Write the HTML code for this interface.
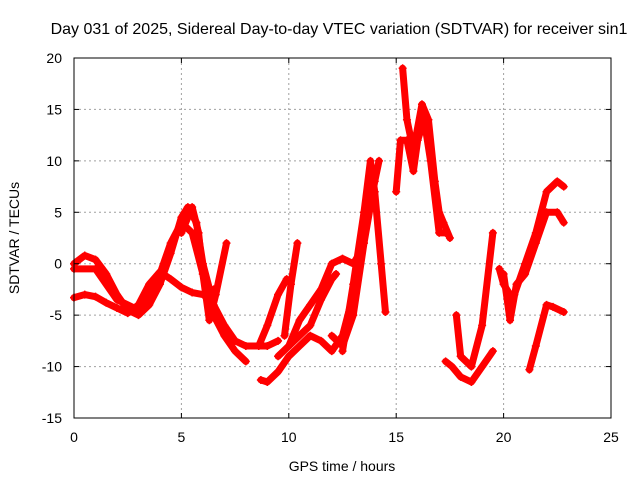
<!DOCTYPE html>
<html><head><meta charset="utf-8">
<style>
body{margin:0;background:#fff;}
svg{display:block;font-family:"Liberation Sans",sans-serif;}
</style></head>
<body>
<svg id="chart" width="640" height="480">
<rect width="640" height="480" fill="#fff"/>
<text x="339" y="34" font-size="16" text-anchor="middle">Day 031 of 2025, Sidereal Day-to-day VTEC variation (SDTVAR) for receiver sin1</text>
<text x="342" y="471" font-size="14" text-anchor="middle">GPS time / hours</text>
<text transform="translate(19,238) rotate(-90)" font-size="14" text-anchor="middle">SDTVAR / TECUs</text>
<g id="grid"></g>
<g id="marks"></g>
<rect x="74" y="58" width="537" height="360" fill="none" stroke="#000" stroke-width="1"/>
<g id="ticks"></g>
</svg>
<script>
const xTicks=[0,5,10,15,20,25];
const yTicks=[-15,-10,-5,0,5,10,15,20];
const trackA=[[0,-3.3],[0.5,-3],[1,-3.2],[1.5,-3.8],[2,-4.3],[2.5,-4.8],[3,-4],[3.5,-2],[4,-0.8],[4.5,-1.5],[5,-2.3],[5.5,-2.8],[6,-3],[6.5,-2.5]];
const trackB=[[0,0],[0.5,0.8],[1,0.4],[1.5,-1],[2,-3],[2.5,-4.5],[3,-5],[3.5,-4],[4,-2],[4.5,1],[5,4.5],[5.3,5.5],[5.7,4],[6,0],[6.5,-4],[7,-6],[7.5,-7.5],[8,-8],[9,-8],[9.5,-7.5]];
const trackC=[[0,-0.5],[1,-0.5],[2,-3.5],[3,-4.5],[4,-1],[4.5,2],[5,4],[5.5,3],[6,-1],[6.5,-5],[7,-7],[7.5,-8.5],[8,-9.5]];
const trackD=[[5,3],[5.5,5.5],[5.8,3],[6,-1],[6.3,-5.5],[6.6,-3],[7.1,2]];
const trackE=[[8.6,-8],[9,-6],[9.5,-3],[9.9,-1.5]];
const trackE2=[[9.8,-7],[10.1,-2],[10.4,2]];
const trackF=[[8.7,-11.3],[9,-11.5],[9.5,-10.5],[10,-9],[10.5,-8],[11,-7],[11.5,-7.5],[12,-8.5],[12.5,-7],[13,-3]];
const trackG=[[9.5,-9],[10,-8],[10.5,-7],[11,-6],[11.5,-3.5],[12,-1.5],[12.2,-1]];
const trackH=[[10,-8],[10.5,-5.5],[11,-4],[11.5,-2.5],[12,0],[12.5,0.5],[13,0],[13.3,1]];
const trackI=[[12,-7],[12.5,-8],[13,-5],[13.5,2],[14,8],[14.2,10]];
const trackJ=[[12.5,-8.5],[13,-2],[13.5,5],[13.8,10],[14,7],[14.3,0],[14.5,-4.7]];
const trackL=[[15,7],[15.2,12],[15.5,12],[15.8,9],[16,12],[16.3,14],[16.6,10],[17,3],[17.3,3]];
const trackM=[[15.3,19],[15.5,14],[15.8,11],[16.2,15.5],[16.5,14],[16.8,8],[17,5],[17.2,4],[17.5,2.5]];
const trackN=[[17.3,-9.5],[17.6,-10],[18,-11],[18.5,-11.5],[19,-10],[19.5,-8.5]];
const trackO=[[17.8,-5],[18,-9],[18.5,-10],[19,-6],[19.5,3]];
const trackP=[[19.8,-0.5],[20,-2],[20.3,-3],[20.5,-3],[21,0],[21.5,3],[22,7],[22.5,8],[22.8,7.5]];
const trackQ=[[20,-1],[20.3,-5.5],[20.6,-2],[21,-1],[21.5,2],[22,5],[22.5,5],[22.8,4]];
const trackR=[[21.2,-10.3],[21.5,-8],[22,-4],[22.3,-4.2],[22.8,-4.7]];
const tracks=[trackA,trackB,trackC,trackD,trackE,trackE2,trackF,trackG,trackH,trackI,trackJ,trackL,trackM,trackN,trackO,trackP,trackQ,trackR];

const X0=74,X1=611,Y0=418,Y1=58;
function xs(t){return X0+(t-0)/(25-0)*(X1-X0);}
function ys(v){return Y0-(v+15)/(20+15)*(Y0-Y1);}
const NS="http://www.w3.org/2000/svg";
const grid=document.getElementById('grid'),ticks=document.getElementById('ticks'),marks=document.getElementById('marks');
function mk(tag,attrs,parent){const e=document.createElementNS(NS,tag);for(const k in attrs)e.setAttribute(k,attrs[k]);parent.appendChild(e);return e;}
xTicks.forEach(t=>{
  const x=xs(t);
  if(t>0&&t<25){const g=mk('line',{x1:x,x2:x,y1:Y1,y2:Y0,stroke:'#a0a0a0','stroke-dasharray':'2,3'},grid);
  
  }
  const l=mk('text',{x:x,y:Y0+24,'font-size':14,'text-anchor':'middle'},ticks);
  l.textContent=t;
  
  
  mk('line',{x1:x,x2:x,y1:Y0,y2:Y0-5,stroke:'#000'},ticks);
  mk('line',{x1:x,x2:x,y1:Y1,y2:Y1+5,stroke:'#000'},ticks);
});
yTicks.forEach(v=>{
  const y=ys(v);
  if(v>-15&&v<20){const g=mk('line',{x1:X0,x2:X1,y1:y,y2:y,stroke:'#a0a0a0','stroke-dasharray':'2,3'},grid);
  
  }
  const l=mk('text',{x:X0-12,y:y+5,'font-size':14,'text-anchor':'end'},ticks);
  l.textContent=v;
  
  
  mk('line',{x1:X0,x2:X0+5,y1:y,y2:y,stroke:'#000'},ticks);
  mk('line',{x1:X1,x2:X1-5,y1:y,y2:y,stroke:'#000'},ticks);
});
tracks.forEach((tr,i)=>{
  const pts=tr.map(p=>xs(p[0])+','+ys(p[1])).join(' ');
  const pl=mk('polyline',{points:pts,fill:'none',stroke:'#ff0000','stroke-width':7,'stroke-linejoin':'round','stroke-linecap':'round'},marks);
  
  
  tr.forEach(p=>{
    const x=xs(p[0]),y=ys(p[1]);
    const m=mk('path',{d:`M${x-4},${y}H${x+4}M${x},${y-4}V${y+4}`,stroke:'#ff0000','stroke-width':1.5},marks);
    
    
  });
});
</script>
</body></html>
